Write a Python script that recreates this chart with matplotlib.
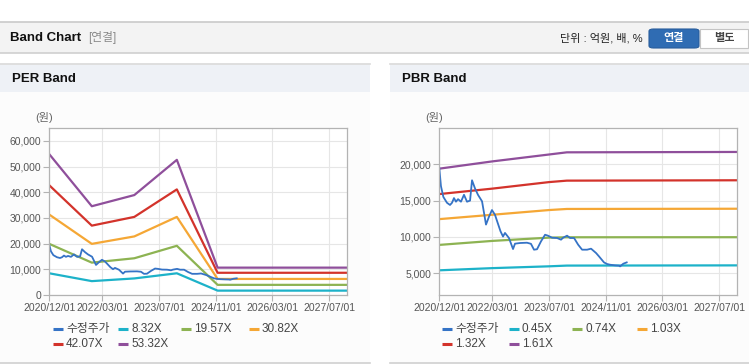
import matplotlib
matplotlib.use("Agg")
import matplotlib.pyplot as plt
import matplotlib.dates as mdates
import pandas as pd
from matplotlib.patches import Rectangle, FancyBboxPatch
from matplotlib.lines import Line2D
from matplotlib.ticker import FuncFormatter

plt.rcParams["font.family"] = ["Liberation Sans", "Noto Sans CJK KR"]

W, H = 749, 364

# adjusted close price (수정주가), shared by both charts
price_dates = [
    "2020-12-01", "2020-12-15", "2021-01-05", "2021-02-05", "2021-03-03", "2021-03-20",
    "2021-04-06", "2021-04-23", "2021-05-11", "2021-06-05", "2021-07-01", "2021-07-27",
    "2021-08-22", "2021-09-08", "2021-10-03", "2021-10-29", "2021-12-03", "2021-12-20",
    "2022-01-06", "2022-02-01", "2022-02-26", "2022-03-24", "2022-04-19", "2022-05-10",
    "2022-06-01", "2022-06-18", "2022-07-22", "2022-08-26", "2022-09-12", "2022-10-25",
    "2022-12-24", "2023-01-27", "2023-02-22", "2023-03-20", "2023-04-23", "2023-05-28",
    "2023-06-22", "2023-07-27", "2023-09-08", "2023-10-12", "2023-10-30", "2023-12-03",
    "2023-12-29", "2024-02-01", "2024-03-07", "2024-04-10", "2024-05-23", "2024-06-26",
    "2024-08-08", "2024-09-02", "2024-10-15", "2024-11-10", "2024-12-06", "2025-01-18",
    "2025-02-22", "2025-03-02", "2025-03-30", "2025-04-28",
]
price = [
    19500, 17000, 15500, 14700, 14400, 14700,
    15350, 14850, 15200, 14850, 15800, 14850,
    15000, 17800, 16700, 15800, 14900, 13300,
    11700, 12800, 13700, 13050, 11800, 10800,
    10050, 10550, 9850, 8330, 9070, 9160,
    9200, 9050, 8240, 8300, 9380, 10300,
    10170, 9890, 9850, 9620, 9890, 10170,
    9850, 9850, 8930, 8240, 8240, 8380,
    7780, 7320, 6490, 6270, 6170, 6080,
    6040, 5940, 6310, 6490,
]

# PER band lines
per_dates = ["2020-12-01", "2021-12-01", "2022-12-01", "2023-12-01", "2024-11-15", "2027-12-01"]
per_labels = ["8.32X", "19.57X", "30.82X", "42.07X", "53.32X"]
per_832 = [8450, 5400, 6450, 8450, 1700, 1700]
per_1957 = [19900, 12600, 14300, 19150, 3950, 3950]
per_3082 = [31300, 19900, 22800, 30400, 6250, 6250]
per_4207 = [42700, 27000, 30400, 41100, 8650, 8650]
per_5332 = [54800, 34550, 38900, 52600, 10650, 10650]

# PBR band lines
pbr_dates = ["2020-12-01", "2022-03-01", "2023-07-01", "2023-12-01", "2027-12-01"]
pbr_labels = ["0.45X", "0.74X", "1.03X", "1.32X", "1.61X"]
pbr_045 = [5400, 5700, 5950, 6050, 6080]
pbr_074 = [8900, 9450, 9900, 9950, 9960]
pbr_103 = [12450, 13050, 13700, 13850, 13880]
pbr_132 = [15900, 16650, 17550, 17750, 17800]
pbr_161 = [19400, 20400, 21350, 21650, 21700]

tick_dates = ["2020-12-01", "2022-03-01", "2023-07-01", "2024-11-01", "2026-03-01", "2027-07-01"]

c_price = "#3573c6"
band_colors = ["#1db2c9", "#8db352", "#f5a735", "#d3332b", "#8f4f9b"]


def fx(x):
    return x / W


def fy(y):
    return 1 - y / H


def rect(x0, y0, x1, y1, color):
    fig.add_artist(Rectangle((fx(x0), fy(y1)), fx(x1 - x0), (y1 - y0) / H,
                             transform=fig.transFigure, facecolor=color,
                             edgecolor="none", zorder=-10))


def hline(x0, x1, y, color, lw=1.0):
    fig.add_artist(Line2D([fx(x0), fx(x1)], [fy(y), fy(y)], transform=fig.transFigure,
                          color=color, lw=lw, zorder=-5))


fig = plt.figure(figsize=(W / 100, H / 100), dpi=100)
fig.patch.set_facecolor("white")

# top header bar
rect(0, 22, W, 53, "#f3f3f3")
hline(0, W, 22, "#c9c9c9", 1.2)
hline(0, W, 53, "#cfcfcf", 1.2)
fig.text(fx(10), fy(38), "Band Chart", fontsize=9.5, fontweight="bold", va="center", color="#111111")
fig.text(fx(88), fy(38), "[연결]", fontsize=8.5, va="center", color="#8a8a8a")
fig.text(fx(643), fy(38), "단위 : 억원, 배, %", fontsize=8, va="center", ha="right", color="#222222")
fig.add_artist(FancyBboxPatch((fx(649), fy(48)), fx(50), 19 / H, boxstyle="round,pad=0,rounding_size=0.006",
                              transform=fig.transFigure, facecolor="#2f6cb3", edgecolor="#285d9c", lw=0.8))
fig.add_artist(Rectangle((fx(700), fy(48)), fx(48), 19 / H, transform=fig.transFigure,
                         facecolor="white", edgecolor="#c4c4c4", lw=0.8))
fig.text(fx(674), fy(38), "연결", fontsize=8, fontweight="bold", va="center", ha="center", color="white")
fig.text(fx(724), fy(38), "별도", fontsize=8, fontweight="bold", va="center", ha="center", color="#444444")

# panels
for px0, px1 in [(0, 370), (390, W)]:
    rect(px0, 64, px1, 363, "#fcfcfc")
    rect(px0, 65, px1, 92, "#eef1f6")
    hline(px0, px1, 64, "#d9d9d9", 1.2)
    hline(px0, px1, 363, "#d0d0d0", 1.2)

fig.text(fx(12), fy(79), "PER Band", fontsize=9.5, fontweight="bold", va="center", color="#111111")
fig.text(fx(402), fy(79), "PBR Band", fontsize=9.5, fontweight="bold", va="center", color="#111111")
fig.text(fx(44), fy(118), "(원)", fontsize=8, va="center", ha="center", color="#666666")
fig.text(fx(434), fy(118), "(원)", fontsize=8, va="center", ha="center", color="#666666")


def setup_axes(left, right, ylim, yticks):
    ax = fig.add_axes([fx(left), fy(295), fx(right - left), (295 - 128) / H])
    ax.set_facecolor("white")
    ax.set_xlim(pd.Timestamp("2020-12-01"), pd.Timestamp("2027-12-01"))
    ax.set_ylim(*ylim)
    ax.set_yticks(yticks)
    ax.set_xticks(pd.to_datetime(tick_dates))
    ax.xaxis.set_major_formatter(mdates.DateFormatter("%Y/%m/%d"))
    ax.yaxis.set_major_formatter(FuncFormatter(lambda v, p: f"{v:,.0f}"))
    ax.grid(True, color="#e6e6e6", lw=0.8)
    ax.set_axisbelow(True)
    for s in ax.spines.values():
        s.set_color("#b3b3b3")
        s.set_linewidth(0.9)
    ax.tick_params(axis="both", labelsize=7.5, colors="#b3b3b3", labelcolor="#555555", length=4, width=0.8, pad=2)
    return ax


def legend_row(items, y):
    for x, label, color in items:
        fig.add_artist(Line2D([fx(x), fx(x + 10)], [fy(y), fy(y)], transform=fig.transFigure,
                              color=color, lw=2.2, solid_capstyle="butt"))
        fig.text(fx(x + 13), fy(y), label, fontsize=8.5, va="center", color="#444444")


# PER chart
ax1 = setup_axes(49.3, 347, (0, 65000), range(0, 60001, 10000))
per_x = pd.to_datetime(per_dates)
for vals, col in zip([per_832, per_1957, per_3082, per_4207, per_5332], band_colors):
    ax1.plot(per_x, vals, color=col, lw=1.6)
ax1.plot(pd.to_datetime(price_dates), price, color=c_price, lw=1.3)

legend_row([(53, "수정주가", c_price), (118, per_labels[0], band_colors[0]),
            (181, per_labels[1], band_colors[1]), (249, per_labels[2], band_colors[2])], 329)
legend_row([(53, per_labels[3], band_colors[3]), (118, per_labels[4], band_colors[4])], 344)

# PBR chart
ax2 = setup_axes(439.3, 737, (2000, 25000), range(5000, 20001, 5000))
pbr_x = pd.to_datetime(pbr_dates)
for vals, col in zip([pbr_045, pbr_074, pbr_103, pbr_132, pbr_161], band_colors):
    ax2.plot(pbr_x, vals, color=col, lw=1.6)
ax2.plot(pd.to_datetime(price_dates), price, color=c_price, lw=1.3)

legend_row([(442, "수정주가", c_price), (509, pbr_labels[0], band_colors[0]),
            (572, pbr_labels[1], band_colors[1]), (637, pbr_labels[2], band_colors[2])], 329)
legend_row([(442, pbr_labels[3], band_colors[3]), (509, pbr_labels[4], band_colors[4])], 344)

fig.savefig("out.png", dpi=100)
